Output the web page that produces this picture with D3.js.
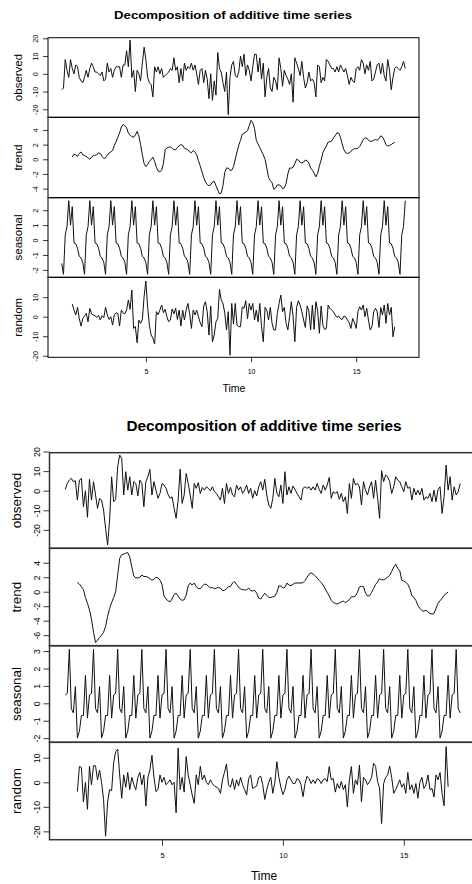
<!DOCTYPE html>
<html><head><meta charset="utf-8">
<script src="https://cdn.jsdelivr.net/npm/d3@7"></script>
<style>
body{margin:0;background:#fff}
svg{display:block}
text{font-family:"Liberation Sans",Arial,Helvetica,sans-serif;fill:#000}
</style>
</head><body>
<svg id="c" width="472" height="884"></svg>
<script>
// ---------- data ----------
const chartTitle = "Decomposition of additive time series";
const panelNames = ["observed", "trend", "seasonal", "random"];
const xAxisLabel = "Time";
const timeTicks = [5, 10, 15];
const startTime = 1;
const frequency = 12;

// ===== upper decomposition =====
const topObserved = [
 -9,-8,8,2,-2,8,3,0,5,4,-2,-4,
 -5,-2,2,-2,3,6,4,1,1,0,-1,1,
 -4,-3,6,1,3,-2,2,4,4,4,-2,5,
 5,13,4,19,-2,2,-10,2,0,-4,6,15,
 8,-2,-5,-6,-13,4,1,4,0,3,-2,-1,
 0,1,3,2,9,2,4,-5,3,-4,6,2,
 4,3,6,2,5,0,-6,2,3,-5,2,-3,
 -14,0,-15,-4,-12,12,3,1,-5,-10,1,-23,
 -2,5,7,-1,-2,1,10,4,11,-1,5,2,
 -4,4,11,11,1,9,-3,6,-13,-2,3,-8,
 -10,-2,-4,-9,9,3,-7,2,-1,-3,-6,0,
 -16,9,6,3,-1,7,-2,-8,-5,1,-4,-3,
 -5,-13,5,4,-5,-2,-4,8,7,5,3,3,
 1,4,1,5,3,1,3,-1,-6,-2,-4,-5,
 3,4,2,8,6,0,5,2,7,-4,-3,1,
 5,6,0,6,-1,-4,8,2,-9,-2,3,4,
 3,2,4,7,3
];
const topTrend = [
 null,null,null,null,null,null,0.3,0.7,0.6,0.4,0.8,1.0,
 0.6,0.5,0.4,0.2,0.0,0.3,0.5,0.55,0.65,0.85,0.8,0.4,
 0.1,0.2,0.55,0.85,1.0,1.2,1.9,2.4,3.0,3.6,4.4,4.75,
 4.6,4.3,3.6,3.3,3.1,3.0,3.3,3.8,3.2,2.0,0.6,-0.6,
 -1.0,-0.7,-0.3,0.0,0.3,-0.3,-1.1,-1.6,-1.7,-1.5,-0.6,1.3,
 1.55,1.65,1.7,1.5,1.3,1.3,1.6,1.85,2.0,1.9,1.5,1.4,
 1.3,1.0,0.9,1.2,1.0,0.6,-0.2,-0.9,-1.7,-2.5,-3.1,-3.45,
 -3.6,-3.5,-3.1,-3.0,-3.6,-4.2,-4.7,-4.6,-3.6,-1.8,-1.2,-1.2,
 -1.5,-1.5,-1.0,0.0,1.0,1.9,2.6,3.4,3.55,3.7,3.9,4.6,
 5.3,5.0,4.2,2.6,2.1,1.6,1.1,0.6,0.0,-1.2,-2.5,-2.9,
 -3.2,-4.1,-3.9,-3.5,-3.5,-3.6,-4.0,-3.9,-3.3,-2.0,-1.2,-1.2,
 -1.1,-0.6,0.0,-0.1,-0.4,-0.5,-0.4,-0.1,-0.2,-0.5,-1.2,-1.5,
 -1.9,-2.4,-1.9,-0.9,-0.1,0.9,1.4,1.8,2.35,2.4,2.5,2.9,
 3.2,3.6,3.6,3.0,2.1,1.3,0.9,0.8,0.85,1.1,1.3,1.45,
 1.45,1.5,1.75,2.2,2.7,2.9,2.9,2.6,2.45,2.45,2.6,2.7,
 2.6,2.8,3.2,3.05,2.6,2.0,1.8,1.9,2.0,2.2,2.3,null,
 null,null,null,null,null
];
const topSeasonal = [
 -1.57,-2.3,0.35,0.9,2.64,1.0,2.24,-0.2,-0.25,-0.55,-1.1,-1.2,
 -1.5,-2.3,0.35,0.9,2.64,1.0,2.24,-0.2,-0.25,-0.55,-1.1,-1.2,
 -1.5,-2.3,0.35,0.9,2.64,1.0,2.24,-0.2,-0.25,-0.55,-1.1,-1.2,
 -1.5,-2.3,0.35,0.9,2.64,1.0,2.24,-0.2,-0.25,-0.55,-1.1,-1.2,
 -1.5,-2.3,0.35,0.9,2.64,1.0,2.24,-0.2,-0.25,-0.55,-1.1,-1.2,
 -1.5,-2.3,0.35,0.9,2.64,1.0,2.24,-0.2,-0.25,-0.55,-1.1,-1.2,
 -1.5,-2.3,0.35,0.9,2.64,1.0,2.24,-0.2,-0.25,-0.55,-1.1,-1.2,
 -1.5,-2.3,0.35,0.9,2.64,1.0,2.24,-0.2,-0.25,-0.55,-1.1,-1.2,
 -1.5,-2.3,0.35,0.9,2.64,1.0,2.24,-0.2,-0.25,-0.55,-1.1,-1.2,
 -1.5,-2.3,0.35,0.9,2.64,1.0,2.24,-0.2,-0.25,-0.55,-1.1,-1.2,
 -1.5,-2.3,0.35,0.9,2.64,1.0,2.24,-0.2,-0.25,-0.55,-1.1,-1.2,
 -1.5,-2.3,0.35,0.9,2.64,1.0,2.24,-0.2,-0.25,-0.55,-1.1,-1.2,
 -1.5,-2.3,0.35,0.9,2.64,1.0,2.24,-0.2,-0.25,-0.55,-1.1,-1.2,
 -1.5,-2.3,0.35,0.9,2.64,1.0,2.24,-0.2,-0.25,-0.55,-1.1,-1.2,
 -1.5,-2.3,0.35,0.9,2.64,1.0,2.24,-0.2,-0.25,-0.55,-1.1,-1.2,
 -1.5,-2.3,0.35,0.9,2.64,1.0,2.24,-0.2,-0.25,-0.55,-1.1,-1.2,
 -1.5,-2.3,0.35,0.9,2.64
];
const topRandom = [
 null,null,null,null,null,null,6.5,3.4,0.9,4.8,-0.9,-4.8,
 -1,0.5,1.7,-2.6,4.3,1.5,0.9,0.5,-0.3,0.7,-1.7,0.5,
 -0.5,4.8,1.0,-1.4,0.0,-4.3,1.0,2.0,1.7,-4.8,3.4,2.0,
 1.5,3.4,8.5,3.8,13.7,-6,-5,-13.3,-1.7,-3.4,-1.4,10.3,
 18.3,5.1,-4.3,-9.4,-11,-14,2.6,1,3.4,6,2,3.8,
 0,-2.6,-1.7,4,1.5,4.3,-1.4,3.4,-4.8,3.4,-1.7,3.4,
 6.8,1.5,-6,3.4,0.9,3.4,0,-3,-5.1,5.5,7.7,2.6,
 -9.4,5.5,-12.8,-9.4,-2.6,-0.9,14,8.5,6.8,2,-6.8,2.6,
 -19.7,6.8,-3.8,6.8,-4.3,-5.1,-5.1,5,4.3,8.2,-1,6.8,
 3.4,6.8,-1.7,3.4,-2.6,6.8,-5.1,-12.8,4.8,3.4,-1.7,4.8,
 -3.4,-6.8,-6.8,1.7,6.8,11.1,2.6,4.8,-3.4,-6.8,0,7.7,
 0,-12.8,4.8,8.2,6,2.6,-1.7,-5.5,5.5,3,-6.8,6,
 -6.5,7.7,3,-8.5,5.5,-4.3,-6.5,-6,6,4.3,3.4,2.6,
 0.9,-0.3,0.3,-1,-1.4,0.3,0,-1.7,-3,-6,-0.9,-3,
 -6,2.6,5.1,3.4,6,0,4.3,-1.7,-6.8,-5.1,2.6,4.3,
 2.6,-5.5,4.8,0.9,6,-3.4,6.8,0.9,4.8,-10.3,-5.1,null,
 null,null,null,null,null
];
const topObservedTicks = [-20, -10, 0, 10, 20];
const topTrendTicks = [-4, -2, 0, 2, 4];
const topSeasonalTicks = [-2, -1, 0, 1, 2];
const topRandomTicks = [-20, -10, 0, 10];

// ===== lower decomposition =====
const bottomObserved = [
 0.7,3.7,5.4,6.3,4.6,5.1,-4.8,5.4,6.3,-8.2,0,-13.6,
 5.8,-4.8,4.6,-2.2,-9,-3.9,-4.8,-9.9,-19.2,-27.7,-15,7.1,
 -5.6,-4.4,12.2,18.2,16.5,-2.2,9.7,0.3,7.1,-2.2,4.6,3.7,
 -2.7,5.4,3.7,-8.2,4.6,7.1,10.9,-2.2,4.6,0.3,-3.9,-1.4,
 3.7,2.9,1.2,-1.9,-3.9,-3.1,-9,-14.1,-4.8,11,-6.5,
 -2.2,8.8,3.7,-2.2,-9,3.7,1.2,4.1,-1.4,1.7,0.3,2,
 1.2,0,2,-0.5,-1.4,-3.1,-4.8,1.2,-6.5,3.7,-1.4,1.7,
 -2.2,-3.1,2.9,0.3,2,-1.4,0.3,2.9,-1.4,1.2,-3.9,0,
 -2.7,2,4.6,0.3,5.8,-2.2,-7.3,-9,-3.9,6.3,-1.4,
 -3.1,2.9,-6.5,9.7,-2.2,2,-1.4,2.4,0.7,-1.4,-3.1,-4.8,
 1.2,2,1.2,2,0.3,2,0.3,3.7,0.7,-1.4,2.9,0.3,
 2.9,6.8,-3.9,-0.5,-1.4,-0.5,-4.4,-1.4,-5.6,-3.1,-11.6,3.7,
 -3.9,6.3,2.9,3.7,2,-7.3,4.6,0.3,-2.2,2,4.6,-3.9,
 5.4,-3.9,-14.1,10.2,4.6,8,7.1,4.6,-1.4,2,7.1,
 5.4,4.6,2,-0.5,4.6,1.2,2,-4.8,1.2,-2.2,0.3,-2.2,
 1.2,-4.8,-3.1,-3.9,-1.4,-5.6,0.3,-5.6,0.7,2,-11.6,-3.1,
 13.1,0.3,7.1,-4.8,2,-2.2,-0.5,3.7
];
const bottomTrend = [
 null,null,null,null,null,null,1.3,1.05,0.7,0.3,-0.8,-1.6,
 -2.5,-3.8,-5.6,-7.0,-6.7,-6.3,-6.0,-5.6,-4.8,-3.4,-2.3,-1.5,
 -0.8,0.0,2.3,4.6,5.1,5.2,5.3,5.4,4.8,3.4,2.2,1.9,
 1.9,2.0,2.3,2.1,2.1,2.0,1.8,1.6,1.7,2.0,1.9,1.6,
 1.0,-0.6,-1.0,-1.25,-1.4,-1.0,-0.4,-0.2,-0.6,-1.0,-1.2,-1.1,
 -0.5,0.8,1.2,0.9,1.2,0.7,0.45,0.4,0.75,1.05,1.0,0.8,
 0.5,0.6,0.4,0.5,0.6,0.5,0.15,0.2,0.4,0.7,0.7,1.2,
 1.4,1.0,0.65,0.35,0.3,0.25,0.25,0.5,0.15,0.1,0.2,-0.2,
 -0.9,-1.0,-0.6,-0.2,-0.5,-0.8,-0.8,-0.7,-0.6,-0.1,0.8,0.8,
 0.5,0.6,1.2,0.9,0.85,1.0,1.2,1.2,1.2,1.2,1.25,1.55,
 2.0,2.4,2.6,2.45,2.2,1.9,1.55,1.25,0.9,0.4,-0.1,-0.6,
 -1.2,-1.5,-1.6,-1.7,-1.55,-1.4,-1.3,-1.5,-1.3,-1.1,-0.7,-0.7,
 -0.6,-0.1,0.65,0.75,0.7,-0.2,-0.6,-0.55,-0.1,0.45,1.0,1.35,
 1.8,1.65,1.65,1.8,2.0,2.25,2.8,3.4,3.8,3.2,2.9,1.6,
 1.45,1.3,1.0,0.4,-0.5,-0.8,-1.2,-1.9,-2.3,-2.6,-2.7,-2.55,
 -2.8,-3.0,-3.1,-3.0,-2.3,-1.6,-1.25,-0.9,-0.5,-0.25,-0.05,null,
 null,null,null,null,null
];
const bottomSeasonal = [
 0.48,0.57,3.1,-0.3,-0.55,0.96,-2.0,-1.6,-0.7,-0.7,1.6,-0.85,
 0.48,0.57,3.1,-0.3,-0.55,0.96,-2.0,-1.6,-0.7,-0.7,1.6,-0.85,
 0.48,0.57,3.1,-0.3,-0.55,0.96,-2.0,-1.6,-0.7,-0.7,1.6,-0.85,
 0.48,0.57,3.1,-0.3,-0.55,0.96,-2.0,-1.6,-0.7,-0.7,1.6,-0.85,
 0.48,0.57,3.1,-0.3,-0.55,0.96,-2.0,-1.6,-0.7,-0.7,1.6,-0.85,
 0.48,0.57,3.1,-0.3,-0.55,0.96,-2.0,-1.6,-0.7,-0.7,1.6,-0.85,
 0.48,0.57,3.1,-0.3,-0.55,0.96,-2.0,-1.6,-0.7,-0.7,1.6,-0.85,
 0.48,0.57,3.1,-0.3,-0.55,0.96,-2.0,-1.6,-0.7,-0.7,1.6,-0.85,
 0.48,0.57,3.1,-0.3,-0.55,0.96,-2.0,-1.6,-0.7,-0.7,1.6,-0.85,
 0.48,0.57,3.1,-0.3,-0.55,0.96,-2.0,-1.6,-0.7,-0.7,1.6,-0.85,
 0.48,0.57,3.1,-0.3,-0.55,0.96,-2.0,-1.6,-0.7,-0.7,1.6,-0.85,
 0.48,0.57,3.1,-0.3,-0.55,0.96,-2.0,-1.6,-0.7,-0.7,1.6,-0.85,
 0.48,0.57,3.1,-0.3,-0.55,0.96,-2.0,-1.6,-0.7,-0.7,1.6,-0.85,
 0.48,0.57,3.1,-0.3,-0.55,0.96,-2.0,-1.6,-0.7,-0.7,1.6,-0.85,
 0.48,0.57,3.1,-0.3,-0.55,0.96,-2.0,-1.6,-0.7,-0.7,1.6,-0.85,
 0.48,0.57,3.1,-0.3,-0.55,0.96,-2.0,-1.6,-0.7,-0.7,1.6,-0.85,
 0.48,0.57,3.1,-0.3,-0.55
];
const bottomRandom = [
 null,null,null,null,null,null,-3.8,6.5,6,-8,0,-11,
 6.5,-1,6.8,6.7,1,5,0,-7,-22,-8,-3,-3.4,
 8,12.5,13.5,3,-6.5,3,-2,4,-3,2,-1,-3,
 2,4,-1,3,-9.7,2,5,11,2,-3.8,-3,3,
 0,2,-1,0,1,-1,0,-12.4,14,-3,2,-4,
 10.5,3,-1,-5.2,-8.6,3,-1,6.5,1,3,0,-1,
 1,-0.5,-1.5,-2,-2.5,-4.5,1,4,7.5,-1,-2,1.5,
 -3,1,-1.5,2,-1,-3,-5.2,1.5,3,-2.5,-2,-1.5,
 2,2.5,-1,-7,-3,0,2,-4.5,0,8.4,2,-2,
 -5,-3,1,2.5,1,-0.5,-0.5,1.5,1,-1,-5.9,-0.5,
 2.5,1.5,-0.5,1,-0.5,1.5,1,-0.5,1,1.5,0.3,6.4,
 1,1.5,-4,-0.5,-2.5,0.3,-3,-1,-10,1,6.4,-4.5,
 1,-1,7,-7.9,2,1,-1,0.3,2,7.7,6.5,0.3,
 -2.5,-16.8,-0.5,2,3,6.6,2,-4.5,-3,-1,1,-2,
 -0.5,-4.5,4,-3,-1,-4.5,-0.5,-6.5,0,2,-2.5,-1,
 3,-3,-2.5,-6,3,1,4,-4.5,-9.6,14.5,-1.8,null,
 null,null,null,null,null
];
const bottomObservedTicks = [-20, -10, 0, 10, 20];
const bottomTrendTicks = [-6, -4, -2, 0, 2, 4];
const bottomSeasonalTicks = [-2, -1, 0, 1, 2, 3];
const bottomRandomTicks = [-20, -10, 0, 10];

// ---------- drawing ----------
const svg = d3.select("#c");

function drawDecomposition(opt) {
  const g = svg.append("g");
  const x = d3.scaleLinear().domain(opt.xDomain).range([opt.left, opt.right]);
  const times = opt.series[0].values.map((_, i) => startTime + i / frequency);

  g.append("text")
    .attr("x", opt.titleX).attr("y", opt.titleY)
    .attr("text-anchor", "middle")
    .attr("font-weight", "bold")
    .attr("font-size", opt.titleSize)
    .attr("textLength", opt.titleLength)
    .attr("lengthAdjust", "spacingAndGlyphs")
    .text(chartTitle);

  opt.series.forEach((s, k) => {
    const top = opt.bounds[k], bottom = opt.bounds[k + 1];
    const y = d3.scaleLinear().domain(s.domain).range([bottom, top]);

    const line = d3.line()
      .defined(d => d !== null)
      .x((d, i) => x(times[i]))
      .y(d => y(d));
    g.append("path")
      .datum(s.values)
      .attr("fill", "none")
      .attr("stroke", "#111")
      .attr("stroke-width", opt.lineWidth)
      .attr("stroke-linejoin", "round")
      .attr("d", line);

    // y axis
    const ax = g.append("g")
      .attr("transform", `translate(${opt.left},0)`)
      .call(d3.axisLeft(y).tickValues(s.ticks).tickSize(opt.tickLen).tickFormat(d => String(d)));
    ax.select(".domain").remove();
    ax.selectAll(".tick line").attr("stroke", "#222").attr("stroke-width", 0.9);
    ax.selectAll(".tick text")
      .attr("x", null).attr("dy", null)
      .attr("transform", `translate(${opt.tickLabelX - opt.left},0) rotate(-90)`)
      .attr("text-anchor", "middle")
      .attr("font-size", opt.tickFont)
      .attr("font-family", '"Liberation Sans",Arial,sans-serif')
      .attr("fill", "#000");

    // panel name
    g.append("text")
      .attr("transform", `translate(${opt.nameX},${(top + bottom) / 2}) rotate(-90)`)
      .attr("text-anchor", "middle")
      .attr("font-size", opt.nameFont)
      .text(panelNames[k]);

    // border
    g.append("rect")
      .attr("x", opt.left).attr("y", top)
      .attr("width", opt.right - opt.left).attr("height", bottom - top)
      .attr("fill", "none")
      .attr("stroke", opt.borderColor)
      .attr("stroke-width", opt.borderWidth);
  });

  // x axis
  const last = opt.bounds[opt.bounds.length - 1];
  const xa = g.append("g")
    .attr("transform", `translate(0,${last})`)
    .call(d3.axisBottom(x).tickValues(timeTicks).tickSize(opt.xTickLen).tickFormat(d => String(d)));
  xa.select(".domain").remove();
  xa.selectAll(".tick line").attr("stroke", "#222").attr("stroke-width", 0.9);
  xa.selectAll(".tick text")
    .attr("y", opt.xLabelY - last).attr("dy", null)
    .attr("font-size", opt.xTickFont)
    .attr("font-family", '"Liberation Sans",Arial,sans-serif')
    .attr("fill", "#000");

  g.append("text")
    .attr("x", opt.timeX).attr("y", opt.timeY)
    .attr("text-anchor", "middle")
    .attr("font-size", opt.timeFont)
    .text(xAxisLabel);
}

drawDecomposition({
  xDomain: [0.3467, 17.9867], left: 48, right: 419,
  bounds: [37.7, 117.3, 197.7, 277.3, 357.3],
  series: [
    {values: topObserved, domain: [-24.5, 20.34], ticks: topObservedTicks},
    {values: topTrend, domain: [-5.24, 5.73], ticks: topTrendTicks},
    {values: topSeasonal, domain: [-2.5, 2.84], ticks: topSeasonalTicks},
    {values: topRandom, domain: [-20.8, 20.2], ticks: topRandomTicks}
  ],
  titleX: 233, titleY: 19, titleSize: 11, titleLength: 238,
  lineWidth: 1, tickLen: 5, tickLabelX: 37.5, tickFont: 7.2,
  nameX: 21.5, nameFont: 11.5,
  borderColor: "#000", borderWidth: 1,
  xTickLen: 5, xLabelY: 374, xTickFont: 7,
  timeX: 234, timeY: 391.5, timeFont: 10.5
});

drawDecomposition({
  xDomain: [0.3467, 17.9867], left: 49.5, right: 476,
  bounds: [452.7, 548.3, 645.7, 742.3, 839.7],
  series: [
    {values: bottomObserved, domain: [-29.4, 19.4], ticks: bottomObservedTicks},
    {values: bottomTrend, domain: [-7.45, 5.99], ticks: bottomTrendTicks},
    {values: bottomSeasonal, domain: [-2.24, 3.31], ticks: bottomSeasonalTicks},
    {values: bottomRandom, domain: [-23.4, 16.3], ticks: bottomRandomTicks}
  ],
  titleX: 264, titleY: 430.7, titleSize: 14.5, titleLength: 275,
  lineWidth: 1, tickLen: 6, tickLabelX: 39.5, tickFont: 8.8,
  nameX: 20.7, nameFont: 13.5,
  borderColor: "#333", borderWidth: 1.5,
  xTickLen: 6, xLabelY: 858.5, xTickFont: 7.5,
  timeX: 264, timeY: 880, timeFont: 12
});
</script>
</body></html>
